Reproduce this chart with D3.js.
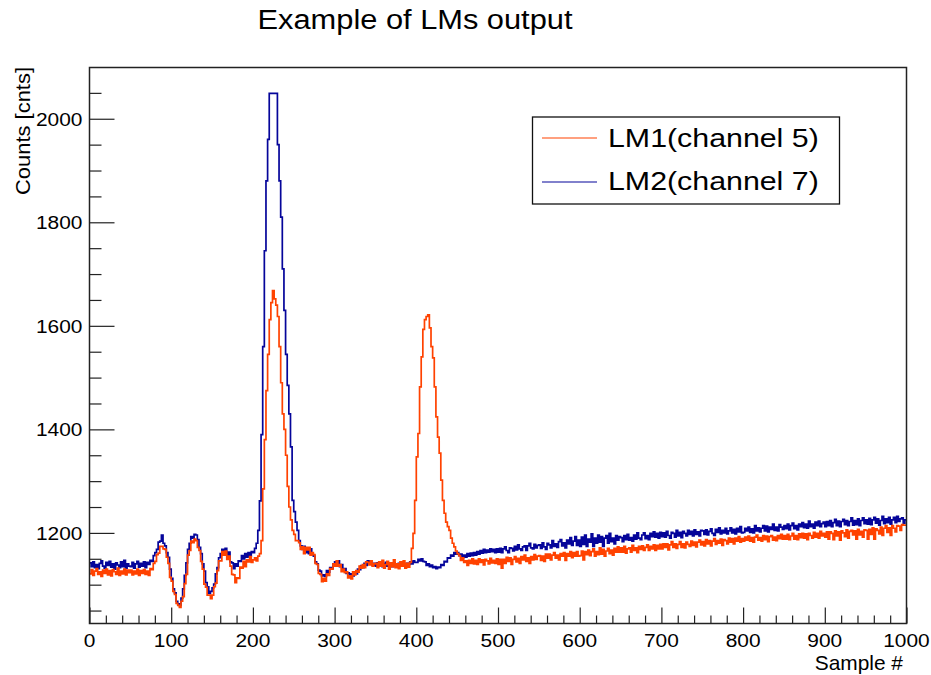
<!DOCTYPE html>
<html>
<head>
<meta charset="utf-8">
<script src="https://cdn.jsdelivr.net/npm/d3@7"></script>
<style>
  html, body { margin: 0; padding: 0; background: #fff; }
  svg { display: block; }
</style>
</head>
<body>
<svg id="chart" width="931" height="675"></svg>
<script>
// ---- data -------------------------------------------------------------
const chartTitle = "Example of LMs output";
const xTitle = "Sample #";
const yTitle = "Counts [cnts]";
const seriesNames = ["LM1(channel 5)", "LM2(channel 7)"];

// samples per histogram bin
const binWidth = 2;

// LM1 (channel 5) counts, one value per bin of 2 samples (0..1000), 50 samples per row
const lm1 = [
  1121,1129,1118,1126,1131,1120,1125,1116,1128,1122,1130,1119,1127,1117,1129,1125,1120,1132,1118,1126,1121,1130,1119,1128,1123,
  1128,1119,1126,1121,1130,1118,1127,1122,1129,1120,1126,1118,1131,1129,1141,1145,1158,1161,1174,1174,1169,1168,1153,1141,1114,
  1107,1087,1081,1064,1060,1056,1068,1077,1102,1120,1157,1166,1184,1181,1188,1185,1172,1166,1145,1130,1101,1095,1080,1080,1073,
  1080,1096,1103,1127,1146,1146,1164,1157,1165,1149,1155,1136,1120,1119,1104,1113,1112,1134,1132,1145,1135,1148,1144,1154,1143,
  1148,1152,1146,1155,1160,1185,1285,1380,1475,1545,1612,1645,1668,1652,1640,1618,1560,1490,1430,1400,1350,1290,1250,1225,1205,
  1197,1185,1185,1181,1168,1173,1160,1172,1167,1172,1157,1162,1158,1141,1139,1122,1120,1106,1112,1107,1121,1118,1131,1130,1140,
  1136,1146,1136,1139,1125,1130,1123,1125,1113,1117,1111,1125,1119,1127,1124,1136,1132,1139,1133,1144,1143,1138,1146,1136,1140,
  1141,1133,1144,1136,1147,1132,1139,1145,1130,1142,1135,1148,1133,1140,1131,1144,1136,1146,1132,1141,1134,1143,1170,1199,1263,
  1347,1392,1482,1540,1593,1612,1618,1621,1596,1560,1538,1482,1424,1385,1354,1302,1263,1238,1221,1212,1205,1190,1180,1173,1165,
  1160,1156,1147,1152,1143,1146,1137,1147,1141,1150,1140,1147,1139,1150,1143,1148,1138,1149,1146,1140,1151,1142,1147,1141,1150,
  1139,1149,1132,1149,1141,1153,1145,1152,1139,1149,1154,1144,1151,1141,1154,1148,1157,1145,1152,1141,1154,1148,1158,1149,1155,
  1156,1147,1155,1145,1159,1151,1159,1148,1157,1162,1151,1157,1148,1160,1155,1162,1147,1160,1155,1164,1152,1162,1155,1164,1155,
  1156,1165,1148,1164,1158,1167,1156,1164,1169,1155,1164,1158,1171,1159,1168,1155,1165,1170,1160,1167,1157,1170,1163,1173,1163,
  1171,1163,1174,1161,1169,1171,1163,1176,1166,1171,1162,1174,1168,1175,1166,1172,1177,1166,1174,1169,1177,1166,1176,1169,1178,
  1169,1179,1172,1179,1167,1177,1183,1172,1179,1170,1178,1183,1172,1179,1171,1182,1178,1174,1184,1176,1182,1173,1182,1186,1177,
  1183,1175,1187,1179,1185,1175,1184,1189,1178,1185,1180,1188,1176,1187,1185,1179,1190,1182,1189,1179,1190,1184,1193,1182,1189,
  1184,1192,1186,1194,1184,1191,1182,1192,1196,1186,1191,1184,1195,1187,1194,1183,1193,1195,1186,1192,1185,1195,1189,1197,1188,
  1195,1188,1197,1187,1194,1199,1188,1195,1187,1198,1191,1199,1190,1198,1187,1199,1195,1190,1201,1192,1199,1190,1203,1194,1199,
  1192,1202,1188,1202,1199,1187,1204,1194,1202,1186,1204,1200,1193,1206,1190,1203,1205,1196,1204,1188,1207,1196,1203,1192,1206,
  1205,1188,1207,1197,1210,1188,1208,1205,1198,1211,1195,1209,1214,1201,1210,1195,1214,1209,1202,1214,1213,1205,1216,1215,1215
];

// LM2 (channel 7) counts, same binning
const lm2 = [
  1142,1135,1144,1133,1139,1131,1141,1146,1136,1132,1143,1137,1145,1134,1140,1130,1142,1138,1133,1144,1135,1147,1132,1140,1136,
  1135,1143,1132,1140,1145,1134,1141,1136,1144,1133,1143,1139,1147,1145,1156,1162,1168,1182,1184,1196,1180,1175,1162,1153,1130,
  1112,1092,1084,1068,1063,1060,1074,1092,1118,1142,1168,1180,1193,1190,1197,1196,1187,1172,1160,1140,1126,1104,1096,1083,1087,
  1094,1101,1121,1133,1152,1160,1168,1162,1170,1157,1163,1144,1142,1131,1140,1136,1146,1145,1156,1150,1160,1153,1162,1155,1164,
  1162,1170,1180,1205,1262,1390,1560,1745,1880,1960,2049,2049,2049,2049,2049,1950,1880,1810,1710,1630,1545,1485,1430,1366,1263,
  1241,1221,1205,1185,1175,1168,1174,1162,1171,1160,1169,1158,1155,1144,1140,1128,1126,1117,1119,1116,1127,1124,1133,1131,1140,
  1144,1141,1146,1135,1139,1128,1131,1122,1123,1115,1121,1117,1125,1121,1130,1129,1137,1133,1141,1137,1146,1141,1145,1137,1141,
  1136,1142,1137,1141,1135,1140,1143,1136,1141,1138,1135,1142,1139,1136,1141,1137,1143,1138,1135,1141,1139,1144,1140,1146,1143,
  1143,1149,1146,1150,1145,1144,1137,1140,1135,1138,1133,1135,1131,1134,1133,1139,1137,1145,1144,1152,1151,1157,1155,1162,1159,
  1162,1156,1159,1152,1157,1153,1160,1155,1161,1156,1162,1157,1164,1159,1166,1161,1168,1162,1167,1163,1169,1164,1168,1162,1169,
  1163,1170,1162,1169,1173,1166,1162,1171,1170,1165,1174,1167,1177,1169,1166,1173,1175,1166,1175,1180,1171,1169,1178,1171,1176,
  1177,1170,1181,1173,1168,1180,1177,1171,1185,1174,1179,1172,1183,1187,1175,1181,1171,1186,1179,1191,1176,1184,1193,1176,1186,
  1174,1192,1178,1196,1174,1188,1182,1198,1174,1190,1180,1196,1182,1193,1174,1190,1195,1180,1199,1183,1190,1179,1195,1186,1193,
  1191,1183,1195,1187,1197,1186,1191,1184,1196,1188,1200,1190,1187,1196,1200,1189,1195,1187,1199,1193,1202,1192,1199,1190,1201,
  1193,1200,1192,1203,1195,1190,1201,1199,1192,1205,1194,1201,1191,1203,1199,1194,1205,1197,1203,1194,1206,1197,1202,1194,1205,
  1204,1197,1206,1196,1203,1208,1199,1195,1207,1201,1210,1198,1205,1200,1209,1198,1204,1210,1200,1207,1198,1209,1202,1212,1200,
  1201,1209,1204,1211,1201,1208,1200,1214,1204,1210,1202,1209,1214,1204,1213,1202,1211,1207,1217,1205,1211,1204,1216,1211,1207,
  1214,1208,1217,1206,1214,1219,1208,1214,1206,1217,1212,1220,1210,1217,1209,1223,1212,1217,1209,1221,1214,1223,1212,1218,1221,
  1212,1222,1214,1224,1212,1220,1226,1214,1223,1212,1222,1226,1216,1224,1214,1222,1229,1215,1224,1216,1227,1214,1224,1229,1218,
  1225,1217,1228,1216,1225,1230,1219,1227,1215,1224,1232,1218,1227,1220,1230,1217,1225,1230,1220,1232,1222,1227,1229,1219,1225
];

const xDomain = [0, 1000];
const yDomain = [1025, 2099];
const xMajorTicks = [0, 100, 200, 300, 400, 500, 600, 700, 800, 900, 1000];
const yMajorTicks = [1200, 1400, 1600, 1800, 2000];

// ---- layout -----------------------------------------------------------
const frame = { left: 89.5, right: 906.5, top: 67.5, bottom: 623.5 };
const colors = { lm1: "#ff4200", lm2: "#05059a" };
const FONT = "'Liberation Sans', Arial, Helvetica, sans-serif";

const svg = d3.select("#chart");
const x = d3.scaleLinear().domain(xDomain).range([frame.left, frame.right]);
const y = d3.scaleLinear().domain(yDomain).range([frame.bottom, frame.top]);

// text with a slight horizontal stretch
function label(str, px, py, size, anchor, sx, rot) {
  return svg.append("text")
    .attr("transform", `translate(${px},${py})` + (rot ? ` rotate(${rot})` : "") + ` scale(${sx},1)`)
    .attr("font-family", FONT)
    .attr("font-size", size)
    .attr("text-anchor", anchor)
    .attr("fill", "#000")
    .text(str);
}

// title
label(chartTitle, 415, 29, 28, "middle", 1.1);

// histogram outlines (step lines through bin edges)
function binPoints(vals) {
  const pts = vals.map((v, i) => [i * binWidth, v]);
  pts.push([vals.length * binWidth, vals[vals.length - 1]]);
  return pts;
}
const stepLine = d3.line()
  .x(d => x(d[0]))
  .y(d => y(d[1]))
  .curve(d3.curveStepAfter);

const plot = svg.append("g");
plot.append("path").datum(binPoints(lm2))
  .attr("d", stepLine).attr("fill", "none")
  .attr("stroke", colors.lm2).attr("stroke-width", 1.7).attr("stroke-linejoin", "miter");
plot.append("path").datum(binPoints(lm1))
  .attr("d", stepLine).attr("fill", "none")
  .attr("stroke", colors.lm1).attr("stroke-width", 1.7).attr("stroke-linejoin", "miter");

// frame
svg.append("rect")
  .attr("x", frame.left).attr("y", frame.top)
  .attr("width", frame.right - frame.left).attr("height", frame.bottom - frame.top)
  .attr("fill", "none").attr("stroke", "#222").attr("stroke-width", 1.5);

// x axis: ticks drawn inward from the bottom edge
const xMinor = d3.range(xDomain[0], xDomain[1] + 1, 20).filter(v => v % 100 !== 0);
const xAxisMajor = d3.axisBottom(x).tickValues(xMajorTicks).tickSize(-16).tickFormat("");
const xAxisMinor = d3.axisBottom(x).tickValues(xMinor).tickSize(-8).tickFormat("");
[xAxisMajor, xAxisMinor].forEach(ax => {
  const g = svg.append("g").attr("transform", `translate(0,${frame.bottom})`).call(ax);
  g.select(".domain").remove();
  g.selectAll(".tick line").attr("stroke", "#222").attr("stroke-width", 1.2);
});
xMajorTicks.forEach(v => label(String(v), x(v), 647, 19, "middle", 1.1));

// y axis: ticks drawn inward from the left edge
const yMinor = d3.range(1050, yDomain[1], 50).filter(v => v % 200 !== 0);
const yAxisMajor = d3.axisLeft(y).tickValues(yMajorTicks).tickSize(-25).tickFormat("");
const yAxisMinor = d3.axisLeft(y).tickValues(yMinor).tickSize(-12).tickFormat("");
[yAxisMajor, yAxisMinor].forEach(ax => {
  const g = svg.append("g").attr("transform", `translate(${frame.left},0)`).call(ax);
  g.select(".domain").remove();
  g.selectAll(".tick line").attr("stroke", "#222").attr("stroke-width", 1.2);
});
yMajorTicks.forEach(v => label(String(v), 82.5, y(v) + 7, 19, "end", 1.1));

// axis titles
label(xTitle, 903, 670, 20.5, "end", 1.02);
label(yTitle, 29.5, 67, 20.5, "end", 1.07, -90);

// legend
const legend = { x0: 532.5, y0: 117, x1: 839.5, y1: 204 };
svg.append("rect")
  .attr("x", legend.x0).attr("y", legend.y0)
  .attr("width", legend.x1 - legend.x0).attr("height", legend.y1 - legend.y0)
  .attr("fill", "#fff").attr("stroke", "#111").attr("stroke-width", 1.3);
const legendRows = [
  { name: seriesNames[0], color: colors.lm1, lineY: 138, textY: 147 },
  { name: seriesNames[1], color: colors.lm2, lineY: 182, textY: 190 }
];
legendRows.forEach(r => {
  svg.append("line")
    .attr("x1", 542).attr("x2", 597).attr("y1", r.lineY).attr("y2", r.lineY)
    .attr("stroke", r.color).attr("stroke-width", 1.2);
  label(r.name, 608, r.textY, 25.5, "start", 1.19);
});
</script>
</body>
</html>
